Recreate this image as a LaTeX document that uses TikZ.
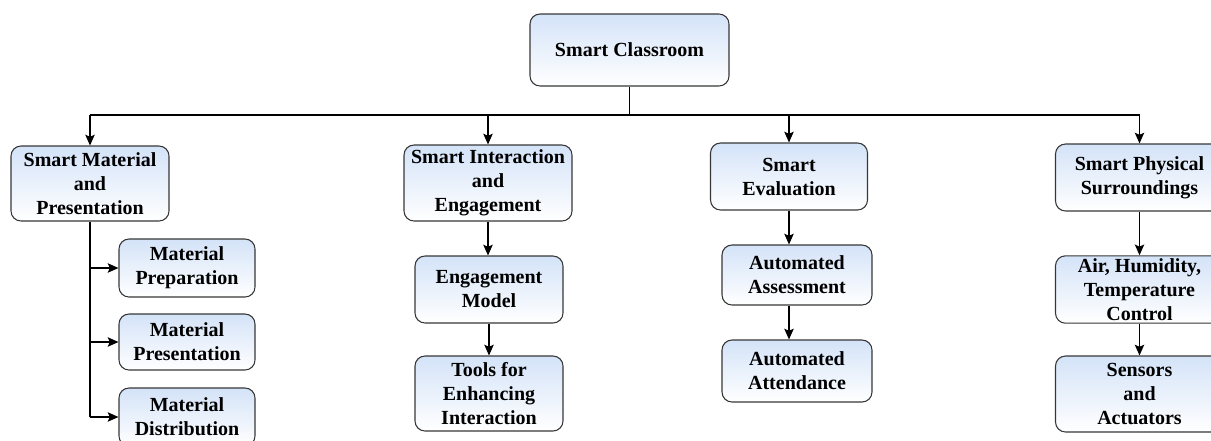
\documentclass[tikz,border=0pt]{standalone}
\usepackage{fontspec}
\setmainfont{Liberation Serif}
\usepackage{tikz}
\usetikzlibrary{arrows.meta}

\definecolor{boxtop}{RGB}{212,227,248}
\definecolor{boxline}{RGB}{55,55,55}

\tikzset{
  box/.style={draw=boxline, line width=0.8pt, rounded corners=7.5pt,
    top color=boxtop, bottom color=white, align=center, inner sep=2pt,
    font=\fontsize{15}{18}\selectfont\bfseries},
  link/.style={line width=1.2pt, black},
  arr/.style={link, -{Stealth[length=8pt,width=7pt,inset=1.5pt]}}
}

\begin{document}
\begin{tikzpicture}[x=0.75pt,y=0.75pt,yscale=-1,xscale=1]
\useasboundingbox (0,0) rectangle (1211,440);
%Shape: Root
\node [box, minimum width=149.25pt, minimum height=54pt] (sc) at (629.5,50) {Smart Classroom};
%Shape: Level one
\node [box, minimum width=118.5pt, minimum height=56.25pt] (mp) at (90,183.5) {Smart Material\\and\\Presentation};
\node [box, minimum width=126pt, minimum height=57pt] (si) at (488,183) {Smart Interaction\\and\\Engagement};
\node [box, minimum width=117.75pt, minimum height=50.25pt] (se) at (789,176.5) {Smart\\Evaluation};
\node [box, minimum width=126pt, minimum height=50.25pt] (ps) at (1139.5,177.5) {Smart Physical\\Surroundings};
%Shape: Material branch
\node [box, minimum width=102pt, minimum height=43.5pt] (mprep) at (187,268) {Material\\Preparation};
\node [box, minimum width=102pt, minimum height=42pt] (mpres) at (187,342) {Material\\Presentation};
\node [box, minimum width=102pt, minimum height=43.5pt] (mdist) at (187,417) {Material\\Distribution};
%Shape: Interaction branch
\node [box, minimum width=111pt, minimum height=50.25pt] (em) at (489,289.5) {Engagement\\Model};
\node [box, minimum width=111pt, minimum height=56.25pt] (tools) at (489,393.5) {Tools for\\Enhancing\\Interaction};
%Shape: Evaluation branch
\node [box, minimum width=112.5pt, minimum height=45pt] (aass) at (797,275) {Automated\\Assessment};
\node [box, minimum width=112.5pt, minimum height=46.5pt] (aatt) at (797,371) {Automated\\Attendance};
%Shape: Surroundings branch
\node [box, minimum width=126pt, minimum height=50.25pt] (ahtc) at (1139.5,289.5) {Air, Humidity,\\Temperature\\Control};
\node [box, minimum width=126pt, minimum height=57pt] (sa) at (1139.5,394) {Sensors\\and\\Actuators};
%Straight Lines: bus
\coordinate (bus) at (629.5,115);
\draw [link] (sc.south) -- (bus);
\draw [link] (bus -| mp.north) -- (bus -| ps.north);
\foreach \n in {mp,si,se,ps}
  \draw [arr] (bus -| \n.north) -- (\n.north);
%Straight Lines: material branch
\draw [link] (mp.south) -- (mp.south |- mdist.west);
\foreach \n in {mprep,mpres,mdist}
  \draw [arr] (mp.south |- \n.west) -- (\n.west);
%Straight Lines: chains
\draw [arr] (si.south) -- (si.south |- em.north);
\draw [arr] (em.south) -- (em.south |- tools.north);
\draw [arr] (se.south) -- (se.south |- aass.north);
\draw [arr] (se.south |- aass.south) -- (se.south |- aatt.north);
\draw [arr] (ps.south) -- (ps.south |- ahtc.north);
\draw [arr] (ahtc.south) -- (ahtc.south |- sa.north);
\end{tikzpicture}
\end{document}
